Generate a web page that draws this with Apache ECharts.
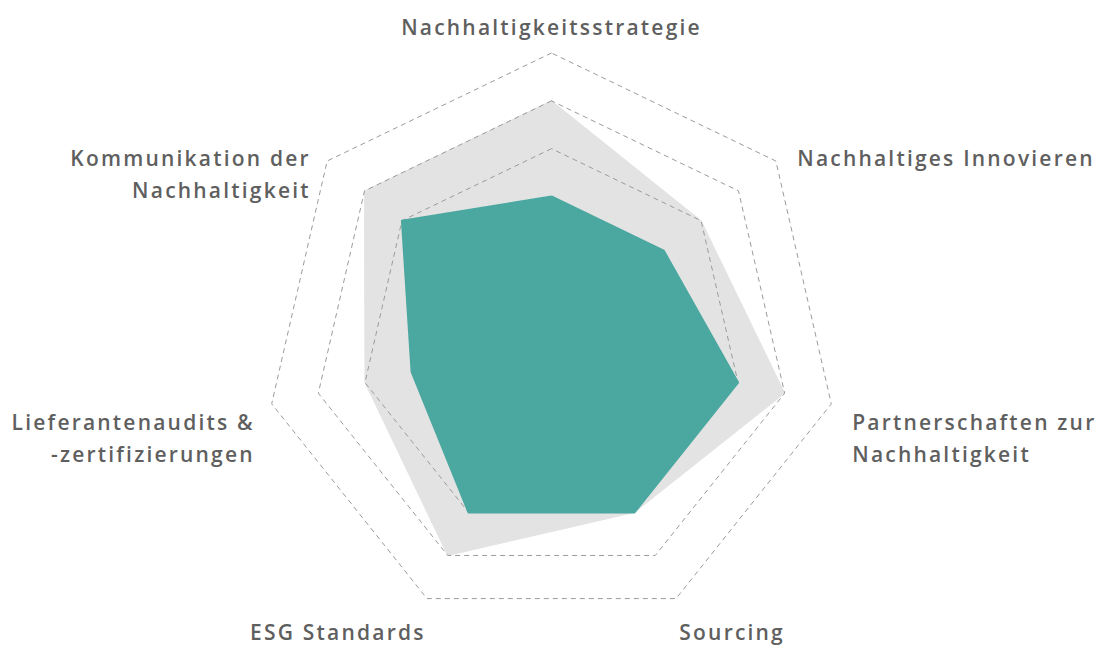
<!DOCTYPE html>
<html>
<head>
<meta charset="utf-8">
<script src="https://cdn.jsdelivr.net/npm/echarts@6/dist/echarts.min.js"></script>
<style>
  html, body { margin: 0; padding: 0; background: #fff; }
  #chart { width: 1105px; height: 646px; }
  /* the original labels are set with wide tracking */
  #chart text { letter-spacing: 2.2px; }
</style>
</head>
<body>
<div id="chart"></div>
<script>
// indicators, in the order ECharts lays them out (top, then counter-clockwise)
const categories = [
  "Nachhaltigkeitsstrategie",
  "Kommunikation der\nNachhaltigkeit",
  "Lieferantenaudits &\n-zertifizierungen",
  "ESG Standards",
  "Sourcing",
  "Partnerschaften zur\nNachhaltigkeit",
  "Nachhaltiges Innovieren"
];
const targetValues = [5, 5, 4, 5, 4, 5, 4];   // grey area
const currentValues = [3, 4, 3, 4, 4, 4, 3];  // green area
const scaleMax = 6;

// label placement style per indicator (which side of the chart it sits on)
const labelSide = ["top", "ul", "l", "bl", "br", "r", "ur"];

const chart = echarts.init(document.getElementById("chart"), null, { renderer: "svg" });

const baseText = {
  fontFamily: "Open Sans",
  fontWeight: 600,
  fontSize: 21,
  color: "#5f5f5f",
  lineHeight: 32
};

function nameFormatter(name) {
  const idx = categories.indexOf(name);
  const side = labelSide[idx];
  const lines = name.split("\n").map(function (l) { return "{" + side + "|" + l + "}"; });
  if (side === "top") return lines.join("\n");
  return "{sp_" + side + "| }\n" + lines.join("\n");
}

const rich = {
  top: Object.assign({}, baseText, { padding: [0, 0, 14, 0] }),
  ur: Object.assign({}, baseText, { padding: [0, 0, 4, 19] }),
  r: Object.assign({}, baseText, { padding: [0, 0, 0, 18] }),
  br: Object.assign({}, baseText, { lineHeight: 22, padding: [0, 0, 0, 2] }),
  bl: Object.assign({}, baseText, { lineHeight: 22 }),
  l: Object.assign({}, baseText, { padding: [0, 14, 0, 0] }),
  ul: Object.assign({}, baseText, { padding: [0, 14, 0, 0] }),
  sp_ur: { fontSize: 2, lineHeight: 2 },
  sp_r: { fontSize: 2, lineHeight: 66 },
  sp_br: { fontSize: 2, lineHeight: 61 },
  sp_bl: { fontSize: 2, lineHeight: 61 },
  sp_l: { fontSize: 2, lineHeight: 66 },
  sp_ul: { fontSize: 2, lineHeight: 30 }
};

const option = {
  animation: false,
  radar: {
    z: 1,
    center: [551.5, 340],
    radius: 287,
    startAngle: 90,
    splitNumber: 6,
    shape: "polygon",
    nameGap: 3,
    indicator: categories.map(function (c) { return { name: c, min: 0, max: scaleMax }; }),
    axisName: {
      formatter: nameFormatter,
      rich: rich
    },
    axisLine: { show: false },
    axisTick: { show: false },
    axisLabel: { show: false },
    splitArea: { show: false },
    splitLine: {
      lineStyle: {
        color: ["transparent", "transparent", "transparent", "#9b9b9b", "#9b9b9b", "#9b9b9b", "#9b9b9b"],
        width: 1,
        type: [5, 4]
      }
    }
  },
  series: [
    {
      type: "radar",
      z: 0,
      symbol: "none",
      lineStyle: { width: 1, color: "#e3e3e3", join: "round" },
      areaStyle: { color: "#e3e3e3", opacity: 1 },
      data: [{ value: targetValues, name: "Ziel" }]
    },
    {
      type: "radar",
      z: 2,
      symbol: "none",
      lineStyle: { width: 2, color: "#4ba8a0", join: "round" },
      areaStyle: { color: "#4ba8a0", opacity: 1 },
      data: [{ value: currentValues, name: "Ist" }]
    }
  ]
};

chart.setOption(option);
</script>
</body>
</html>
